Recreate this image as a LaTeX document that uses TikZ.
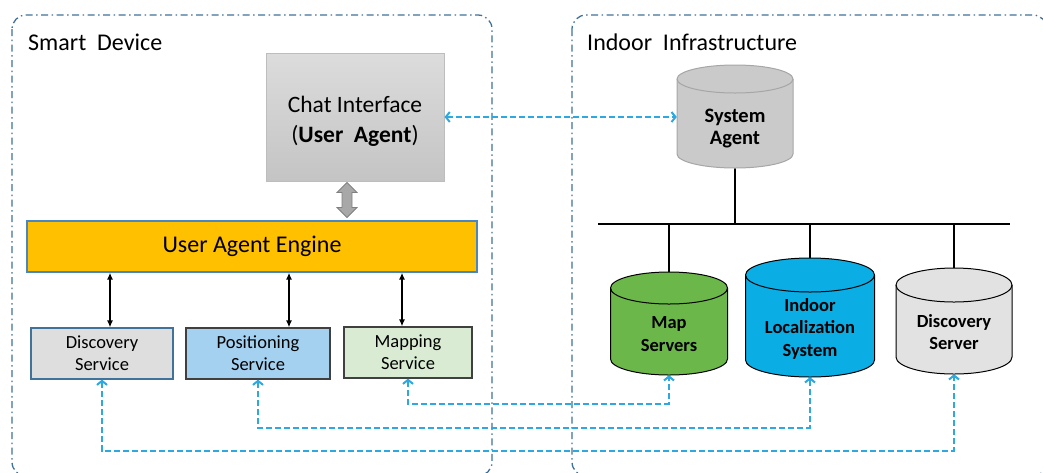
\documentclass[tikz,border=0pt]{standalone}
\usepackage{fontspec}
\setmainfont{Carlito}
\usetikzlibrary{arrows.meta,calc}
\pgfdeclarelayer{bg}
\pgfsetlayers{bg,main}

\definecolor{cont}{HTML}{41729A}
\definecolor{dblue}{HTML}{2EA8E0}
\definecolor{engfill}{HTML}{FFC000}
\definecolor{engline}{HTML}{4A86C0}
\definecolor{dsfill}{HTML}{DEDEDE}
\definecolor{dsline}{HTML}{41729A}
\definecolor{psfill}{HTML}{A5D1F0}
\definecolor{msfill}{HTML}{D9EBD2}
\definecolor{boxline}{HTML}{404040}
\definecolor{chattop}{HTML}{DCDCDC}
\definecolor{chatbot}{HTML}{C4C4C4}
\definecolor{chatline}{HTML}{BDBDBD}
\definecolor{garrow}{HTML}{A8A8A8}
\definecolor{garrowline}{HTML}{808080}
\definecolor{cylgreen}{HTML}{6CB74A}
\definecolor{cylblue}{HTML}{0AADE4}
\definecolor{cylgray}{HTML}{E2E2E2}
\definecolor{cylsa}{HTML}{CACACA}
\definecolor{cylsaline}{HTML}{A6A6A6}

% #1 name, #2 cx, #3 top, #4 bottom, #5 rx, #6 ry, #7 fill, #8 line, #9 text
\newcommand\mycyl[9]{%
  \path[fill=#7, draw=#8, line width=1pt]
    (#2-#5, #3+#6) -- (#2-#5, #4-#6)
    arc[start angle=180, end angle=360, x radius=#5pt, y radius=#6pt]
    -- (#2+#5, #3+#6)
    arc[start angle=0, end angle=180, x radius=#5pt, y radius=#6pt] -- cycle;
  \draw[#8, line width=1pt] (#2-#5, #3+#6)
    arc[start angle=180, end angle=360, x radius=#5pt, y radius=#6pt];
  \node[cyltext, minimum width={2*#5pt}, minimum height={(#4-#3-1.3*#6)*1pt}]
    (#1) at (#2, {(#3+1.3*#6+#4)/2}) {#9};
}
\newcommand\safont{\fontsize{20.5}{23}\selectfont}

\tikzset{
  container/.style={draw=cont, line width=1.3pt, rounded corners=14pt,
    dash pattern=on 7pt off 3.5pt on 1.5pt off 3.5pt},
  title/.style={anchor=west, inner sep=0pt, font=\fontsize{24}{28}\selectfont},
  svc/.style={line width=1.2pt, minimum width=#1, minimum height=51pt,
    align=center, inner sep=0pt, font=\fontsize{18.5}{22}\selectfont},
  cyltext/.style={inner sep=0pt, align=center, font=\fontsize{18.5}{22.5}\selectfont\bfseries},
  bdash/.style={draw=dblue, line width=2pt, dash pattern=on 6pt off 3pt,
    {Straight Barb[length=4pt,width=10pt]}-{Straight Barb[length=4pt,width=10pt]}},
  blk/.style={line width=1.8pt, {Latex[length=7pt,width=6pt]}-{Latex[length=7pt,width=6pt]}},
  bus/.style={line width=2pt}
}

\begin{document}
\begin{tikzpicture}[x=1pt, y=-1pt]
\useasboundingbox (0,0) rectangle (1043,472);

% containers
\draw[container] (12,15) rectangle (492,476);
\draw[container] (572,15) rectangle (1047,476);
\node[title] (tsd) at (28,42) {Smart\ \ Device};
\node[title] (tii) at (587,42) {Indoor\ \ Infrastructure};

% chat interface
\node[draw=chatline, line width=1pt, top color=chattop, bottom color=chatbot,
  minimum width=178pt, minimum height=128pt, align=center, inner sep=0pt,
  font=\fontsize{23.5}{30}\selectfont] (chat) at (355,117)
  {\rule{0pt}{24pt}Chat Interface\\(\textbf{User\ \ Agent})};

% user agent engine
\node[draw=engline, fill=engfill, line width=1.2pt, minimum width=450pt,
  minimum height=51pt, inner sep=0pt, font=\fontsize{24}{28}\selectfont]
  (eng) at (252,246.5) {User Agent Engine};

% gray double block arrow
\begin{scope}[shift={(chat.south)}]
\draw[fill=garrow, draw=garrowline, line width=0.8pt]
  (-8,1) -- (2,11) -- (-3,11) -- (-3,26) -- (2,26) -- (-8,36)
  -- (-18,26) -- (-13,26) -- (-13,11) -- (-18,11) -- cycle;
\end{scope}

% services
\node[svc=142pt, draw=dsline, fill=dsfill] (ds) at (102,353.5) {Discovery\\Service};
\node[svc=144pt, draw=boxline, fill=psfill] (ps) at (258,353.5) {Positioning\\Service};
\node[svc=128pt, draw=boxline, fill=msfill] (mp) at (408,352.5) {Mapping\\Service};

\coordinate (a1) at (110,0);
\coordinate (a2) at (289,0);
\coordinate (a3) at (402,0);
\draw[blk] (a1 |- eng.south) -- (a1 |- ds.north);
\draw[blk] (a2 |- eng.south) -- (a2 |- ps.north);
\draw[blk] (a3 |- eng.south) -- (a3 |- mp.north);

% cylinders
\mycyl{sa}{735}{65}{168}{58}{14}{cylsa}{cylsaline}{\safont\rule{0pt}{19pt}System\\\safont Agent}
\mycyl{msrv}{669}{272}{375}{58.5}{16}{cylgreen}{black}{Map\\Servers}
\mycyl{ils}{810}{258}{377}{64.5}{17}{cylblue}{black}{Indoor\\Localization\\System}
\mycyl{dsrv}{954}{268}{374}{58}{17}{cylgray}{black}{Discovery\\Server}

% bus
\coordinate (busL) at (598,224);
\coordinate (busR) at (1010,224);
\begin{pgfonlayer}{bg}
\draw[bus] (busL) -- (busR);
\draw[bus] (sa.south) -- (sa.south |- busL);
\draw[bus] (msrv.north |- busL) -- (msrv.north);
\draw[bus] (ils.north |- busL) -- (ils.north);
\draw[bus] (dsrv.north |- busL) -- (dsrv.north);
\end{pgfonlayer}

% dashed blue connectors
\draw[bdash] (chat.east) -- (chat.east -| sa.west);
\draw[bdash] (mp.south) -- ++(0,25) -| (msrv.south);
\draw[bdash] (ps.south) -- ++(0,48) -| (ils.south);
\draw[bdash] (ds.south) -- ++(0,71) -| (dsrv.south);
\end{tikzpicture}
\end{document}
